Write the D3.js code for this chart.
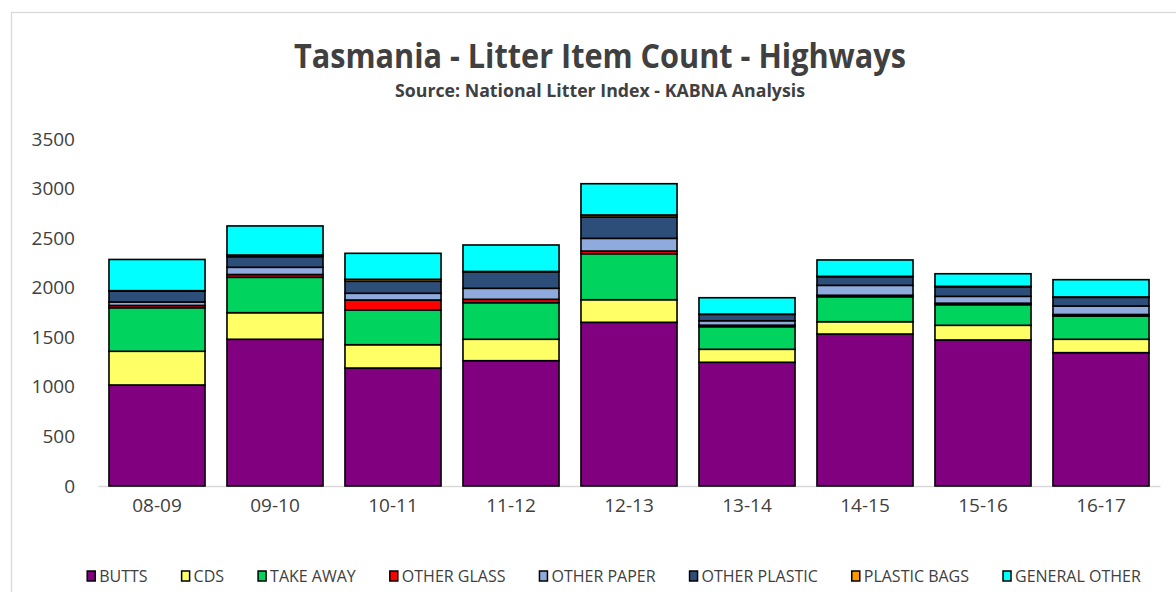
<!DOCTYPE html>
<html>
<head>
<meta charset="utf-8">
<script src="https://cdn.jsdelivr.net/npm/d3@7"></script>
<style>
  body{margin:0;background:#fff;}
  text{font-family:"Open Sans",sans-serif;fill:#404040;}
</style>
</head>
<body>
<svg width="1176" height="592"></svg>
<script>
const years=["08-09","09-10","10-11","11-12","12-13","13-14","14-15","15-16","16-17"];
const series=["BUTTS","CDS","TAKE AWAY","OTHER GLASS","OTHER PAPER","OTHER PLASTIC","PLASTIC BAGS","GENERAL OTHER"];
const colors=["#800080","#ffff66","#00d45f","#ff0000","#8faadc","#2e4e7a","#ff9900","#00ffff"];
const butts=[1019,1480,1190,1264,1651,1248,1533,1473,1345];
const cds=[340,268,235,216,228,131,124,148,135];
const takeAway=[439,357,350,369,464,228,252,208,235];
const otherGlass=[23,28,101,34,27,15,15,15,15];
const otherPaper=[35,73,68,111,128,45,100,69,86];
const otherPlastic=[111,107,121,165,215,64,87,97,87];
const plasticBags=[3,17,20,5,21,3,4,4,4];
const generalOther=[315,293,262,267,315,165,165,127,174];
const yTicks=[0,500,1000,1500,2000,2500,3000,3500];

const cols=[butts,cds,takeAway,otherGlass,otherPaper,otherPlastic,plasticBags,generalOther];
const table=years.map((y,i)=>{const row={year:y};series.forEach((s,j)=>row[s]=cols[j][i]);return row;});
const stacked=d3.stack().keys(series)(table);

const svg=d3.select("svg");
// chart frame
svg.append("rect").attr("x",11.5).attr("y",12.5).attr("width",1200).attr("height",620)
   .attr("fill","none").attr("stroke","#d9d9d9").attr("stroke-width",1.3);

const x=d3.scaleBand().domain(years).range([98,1160]).paddingInner(0.186).paddingOuter(0.093);
const y=d3.scaleLinear().domain([0,3500]).range([486,139]);

svg.append("text").attr("x",600).attr("y",68).attr("text-anchor","middle")
   .attr("font-size","34px").attr("font-weight","bold").attr("textLength",612).attr("lengthAdjust","spacingAndGlyphs")
   .text("Tasmania - Litter Item Count - Highways");
svg.append("text").attr("x",600).attr("y",97).attr("text-anchor","middle")
   .attr("font-size","17px").attr("font-weight","bold").attr("textLength",410).attr("lengthAdjust","spacingAndGlyphs")
   .text("Source: National Litter Index - KABNA Analysis");

svg.append("g").attr("transform","translate(80,0)")
   .call(d3.axisLeft(y).tickValues(yTicks).tickFormat(d3.format("d")).tickSize(0).tickPadding(5))
   .call(g=>g.select(".domain").remove())
   .selectAll("text").attr("font-size","19px").attr("font-family","Open Sans").attr("fill","#404040");

svg.append("g").attr("transform","translate(0,486)")
   .call(d3.axisBottom(x).tickSize(0).tickPadding(13))
   .call(g=>g.select(".domain").attr("stroke","#d9d9d9").attr("stroke-width",1.5))
   .selectAll("text").attr("font-size","19px").attr("font-family","Open Sans").attr("fill","#404040");

svg.append("g").selectAll("g").data(stacked).enter().append("g")
   .attr("fill",(d,i)=>colors[i])
   .selectAll("rect").data(d=>d).enter().append("rect")
   .attr("x",d=>x(d.data.year))
   .attr("y",d=>y(d[1]))
   .attr("width",x.bandwidth())
   .attr("height",d=>y(d[0])-y(d[1]))
   .attr("stroke","#000").attr("stroke-width",1.6);

// legend
const leg=svg.append("g");
let lx=0;
series.forEach((s,i)=>{
  const it=leg.append("g").attr("transform","translate("+lx+",0)");
  it.append("rect").attr("x",0).attr("y",571).attr("width",8).attr("height",10)
    .attr("fill",colors[i]).attr("stroke","#000").attr("stroke-width",1.5);
  const t=it.append("text").attr("x",12).attr("y",582).attr("font-size","16px").text(s);
  lx+=12+t.node().getComputedTextLength()+34;
});
lx-=34;
leg.attr("transform","translate("+(614-lx/2)+",0)");
</script>
</body>
</html>
